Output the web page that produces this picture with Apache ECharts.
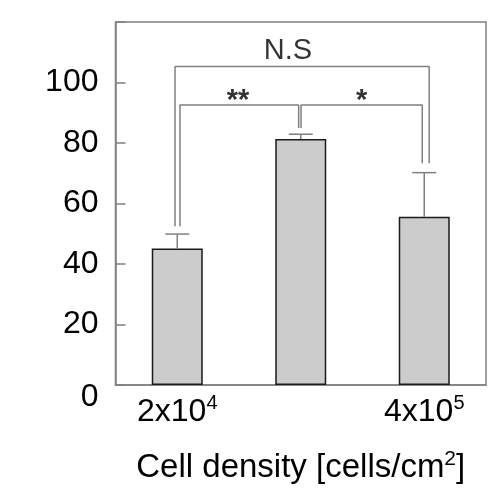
<!DOCTYPE html>
<html>
<head>
	<meta http-equiv="Content-Type" content="text/html; charset=utf-8" />
	<title></title>
	<script src="https://cdn.jsdelivr.net/npm/echarts@6/dist/echarts.min.js"></script>
</head>
<body style="padding: 0;margin: 0;">
<div id="main" style="width: 500px;height:504px;"></div>

<script type="text/javascript">
	// data
	var categories = ['2x10^4', '', '4x10^5'];
	var means = [45.1, 81.3, 55.6];
	var errors = [4.8, 1.6, 14.6];
	var yTicks = [0, 20, 40, 60, 80, 100];

	// significance brackets, x in category units (0,1,2 = bar centres)
	var bracketNS = [[-0.018, 52.5], [-0.018, 105.3], [2.04, 105.3], [2.04, 73.3]];
	var bracketLeft = [[0.022, 52.5], [0.022, 92.6], [0.983, 92.6], [0.983, 85]];
	var bracketRight = [[1.002, 85], [1.002, 92.6], [1.984, 92.6], [1.984, 73.3]];
	var marks = [
		{ name: 'N.S', value: [0.897, 110.5] },
		{ name: '**', value: [0.492, 94] },
		{ name: '*', value: [1.494, 94] }
	];

	var grey = '#808080';
	var font = 'Liberation Sans, Arial, sans-serif';

	var barData = [];
	var errData = [];
	for (var i = 0; i < means.length; i++) {
		barData.push(means[i]);
		errData.push([i, means[i], errors[i]]);
	}

	function bracketSeries(pts) {
		return {
			type: 'line',
			xAxisIndex: 1,
			data: pts,
			symbol: 'none',
			silent: true,
			animation: false,
			lineStyle: { color: grey, width: 1.5 }
		};
	}

	var myChart = echarts.init(document.getElementById('main'));
	var option = {
		animation: false,
		grid: {
			left: 115.5, right: 14, top: 22, bottom: 119,
			show: true, borderColor: grey, borderWidth: 1.5,
			backgroundColor: 'transparent'
		},
		xAxis: [{
			type: 'category',
			data: categories,
			axisLine: { lineStyle: { color: grey, width: 1.5 } },
			axisTick: { show: false },
			axisLabel: {
				margin: 8,
				color: '#000',
				fontFamily: font,
				fontSize: 32,
				formatter: function (v) {
					var p = v.split('^');
					if (p.length < 2) return v;
					return '{b|' + p[0] + '}{s|' + p[1] + '}';
				},
				rich: {
					b: { fontSize: 32, fontFamily: font, color: '#000', lineHeight: 38 },
					s: { fontSize: 20, fontFamily: font, color: '#000', verticalAlign: 'top', lineHeight: 38, padding: [0, 0, 14, 0] }
				}
			},
			name: '{b|Cell density [cells/cm}{s|2}{b|]}',
			nameLocation: 'middle',
			nameGap: 64,
			nameTextStyle: {
				rich: {
					b: { fontSize: 33, fontFamily: font, color: '#000', lineHeight: 38 },
					s: { fontSize: 21, fontFamily: font, color: '#000', verticalAlign: 'top', lineHeight: 38, padding: [0, 0, 16, 0] }
				}
			}
		}, {
			type: 'value',
			min: -0.5,
			max: 2.5,
			show: false
		}],
		yAxis: {
			type: 'value',
			min: 0,
			max: 120,
			interval: 20,
			splitLine: { show: false },
			axisLine: { show: true, onZero: false, lineStyle: { color: grey, width: 1.5 } },
			axisTick: { show: true, inside: true, length: 10, lineStyle: { color: grey, width: 1.5 } },
			axisLabel: {
				margin: 17,
				color: '#000',
				fontFamily: font,
				fontSize: 32,
				formatter: function (v) {
					if (yTicks.indexOf(v) < 0) return '';
					if (v === 0) return '{z|0}';
					return v;
				},
				rich: {
					z: { fontSize: 32, fontFamily: font, color: '#000', padding: [24, 0, 0, 0] }
				}
			}
		},
		series: [{
			type: 'bar',
			data: barData,
			barWidth: 51,
			itemStyle: { color: '#cccccc', borderColor: '#1a1a1a', borderWidth: 1.5 }
		}, {
			type: 'custom',
			data: errData,
			z: 3,
			renderItem: function (params, api) {
				var x = api.value(0);
				var top = api.coord([x, api.value(1) + api.value(2)]);
				var base = api.coord([x, api.value(1)]);
				var half = 12;
				var st = { stroke: grey, lineWidth: 1.5 };
				return {
					type: 'group',
					children: [
						{ type: 'line', shape: { x1: top[0], y1: top[1], x2: base[0], y2: base[1] }, style: st },
						{ type: 'line', shape: { x1: top[0] - half, y1: top[1], x2: top[0] + half, y2: top[1] }, style: st }
					]
				};
			}
		},
		bracketSeries(bracketNS),
		bracketSeries(bracketLeft),
		bracketSeries(bracketRight),
		{
			type: 'scatter',
			xAxisIndex: 1,
			data: marks,
			symbolSize: 0,
			silent: true,
			label: {
				show: true,
				position: 'inside',
				formatter: function (p) {
					return p.name === 'N.S' ? p.name : '{a|' + p.name + '}';
				},
				color: '#000',
				fontFamily: font,
				fontSize: 29,
				rich: {
					a: { fontSize: 29, fontFamily: font, fontWeight: 'bold', color: '#000' }
				}
			}
		}]
	};
	myChart.setOption(option);
</script>
</body>
</html>
